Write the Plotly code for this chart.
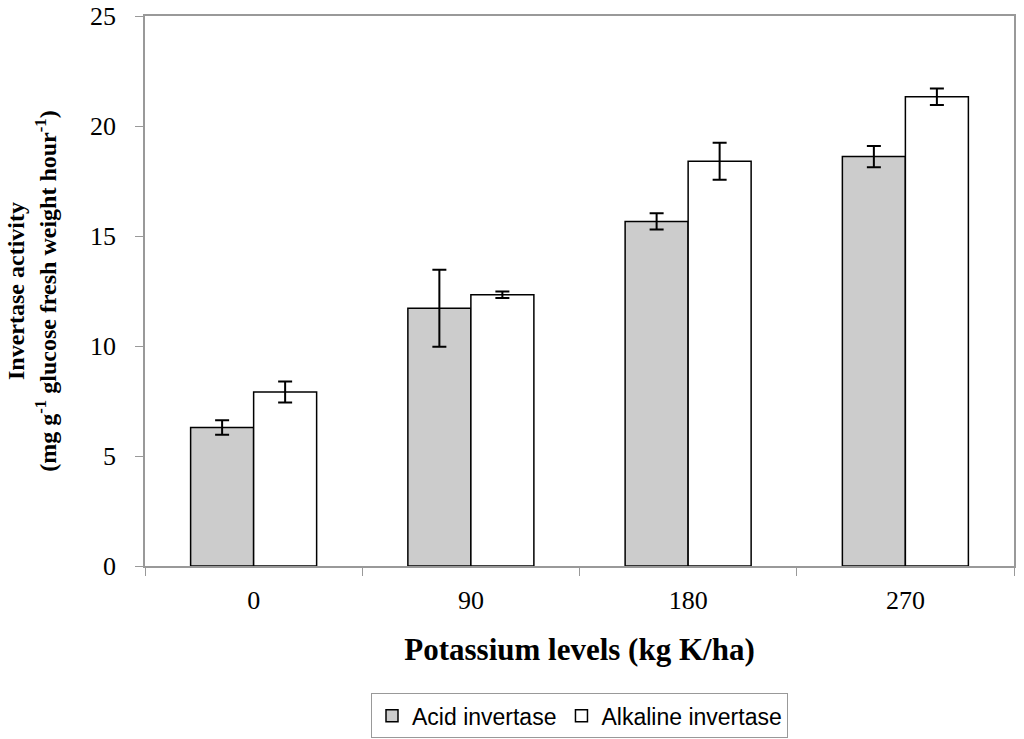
import plotly.graph_objects as go

categories = ["0", "90", "180", "270"]
acid = [6.30, 11.72, 15.66, 18.61]
acid_err = [0.33, 1.75, 0.37, 0.48]
alkaline = [7.91, 12.33, 18.40, 21.33]
alkaline_err = [0.48, 0.15, 0.84, 0.37]

fig = go.Figure()
fig.add_trace(go.Bar(
    x=categories, y=acid, name="Acid invertase",
    marker=dict(color="#cccccc", line=dict(color="#000000", width=1.5)),
    error_y=dict(type="data", array=acid_err, visible=True, color="#000000", thickness=2, width=7),
))
fig.add_trace(go.Bar(
    x=categories, y=alkaline, name="Alkaline invertase",
    marker=dict(color="#ffffff", line=dict(color="#000000", width=1.5)),
    error_y=dict(type="data", array=alkaline_err, visible=True, color="#000000", thickness=2, width=7),
))

fig.update_layout(
    width=1024, height=739,
    margin=dict(l=145, r=10, t=16, b=173),
    paper_bgcolor="white", plot_bgcolor="white",
    barmode="group", bargap=0.42, bargroupgap=0,
    font=dict(family="Liberation Serif", color="#000000"),
    showlegend=True,
    legend=dict(
        orientation="h", x=0.5, xanchor="center", yref="container", y=0.062, yanchor="top",
        bordercolor="#999999", borderwidth=1,
        font=dict(family="Liberation Sans", size=23),
        itemwidth=30, traceorder="normal",
    ),
    xaxis=dict(
        type="category", showline=True, linecolor="#999999", linewidth=1.5, mirror=True,
        ticks="outside", tickson="boundaries", ticklen=8, tickcolor="#999999",
        tickfont=dict(size=26), showgrid=False, automargin=False, ticklabelstandoff=10,
        title=dict(text="<b>Potassium levels (kg K/ha)</b>", font=dict(size=31), standoff=24),
    ),
    yaxis=dict(
        range=[0, 25], dtick=5, showline=True, linecolor="#999999", linewidth=1.5, mirror=True,
        ticks="outside", ticklen=8, tickcolor="#999999", ticklabeloverflow="allow",
        tickfont=dict(size=26), showgrid=False, zeroline=False, automargin=False, ticklabelstandoff=14,
        title=dict(text="<b>Invertase activity<br>(mg g<sup>-1</sup> glucose fresh weight hour<sup>-1</sup>)</b>",
                   font=dict(size=24), standoff=27),
    ),
)

fig.write_html("out.html", config={"displayModeBar": False},
               post_script="document.body.style.margin='0px';")
